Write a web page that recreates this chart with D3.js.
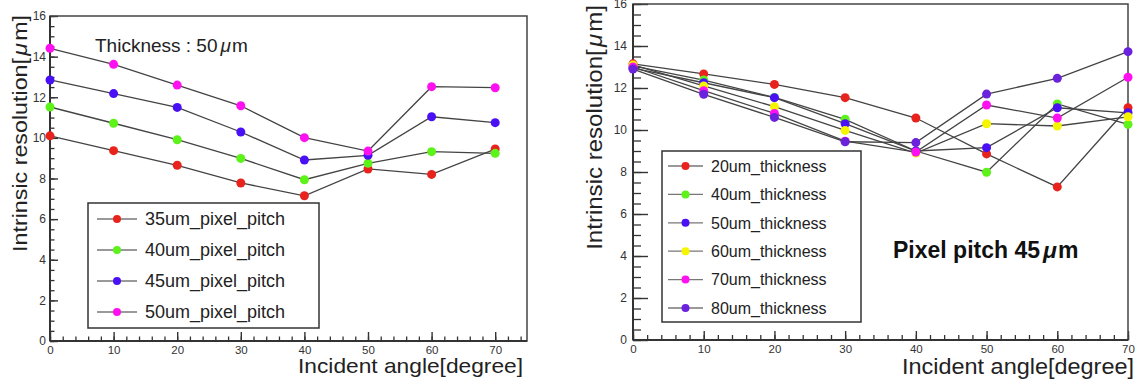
<!DOCTYPE html>
<html><head><meta charset="utf-8">
<script src="https://cdn.jsdelivr.net/npm/d3@7"></script>
<style>
body{margin:0;background:#fff}
svg{display:block}
text{font-family:"Liberation Sans",Arial,Helvetica,sans-serif}
</style>
</head><body>
<svg id="c" width="1143" height="383"></svg>
<script>
// ---------- data ----------
const angles = [0, 10, 20, 30, 40, 50, 60, 70];
const yTickValues = [0, 2, 4, 6, 8, 10, 12, 14, 16];
const xTickValues = [0, 10, 20, 30, 40, 50, 60, 70];

const pitchNames = ["35um_pixel_pitch", "40um_pixel_pitch", "45um_pixel_pitch", "50um_pixel_pitch"];
const pitch35 = [10.10, 9.37, 8.65, 7.78, 7.15, 8.47, 8.20, 9.45];
const pitch40 = [11.52, 10.72, 9.91, 8.99, 7.94, 8.75, 9.32, 9.24];
const pitch45 = [12.85, 12.18, 11.50, 10.29, 8.91, 9.14, 11.04, 10.75];
const pitch50 = [14.41, 13.62, 12.60, 11.58, 10.01, 9.35, 12.52, 12.47];

const thickNames = ["20um_thickness", "40um_thickness", "50um_thickness", "60um_thickness", "70um_thickness", "80um_thickness"];
const thick20 = [13.15, 12.67, 12.17, 11.54, 10.57, 8.86, 7.29, 11.06];
const thick40 = [13.05, 12.38, 11.55, 10.51, 9.00, 7.99, 11.24, 10.27];
const thick50 = [12.95, 12.25, 11.54, 10.30, 9.00, 9.16, 11.06, 10.82];
const thick60 = [13.10, 12.10, 11.11, 9.98, 8.90, 10.30, 10.19, 10.63];
const thick70 = [13.00, 11.87, 10.79, 9.47, 8.95, 11.19, 10.57, 12.51];
const thick80 = [12.90, 11.70, 10.60, 9.44, 9.40, 11.71, 12.46, 13.73];

const pitchColors = ["#e8231d", "#5cf21a", "#4a10f5", "#ff10f0"];
const thickColors = ["#e8231d", "#5cf21a", "#4a10f5", "#f5f500", "#ff10f0", "#6a22dc"];

const yTitle = "Intrinsic resolution[";
const xTitle = "Incident angle[degree]";

// ---------- drawing ----------
const svg = d3.select("#c");

function panel(cfg) {
  const g = svg.append("g");
  const x = d3.scaleLinear().domain(cfg.xDomain).range([cfg.left, cfg.right]);
  const y = d3.scaleLinear().domain([0, 16]).range([cfg.bottom, cfg.top]);

  // minor ticks
  g.append("g").attr("transform", `translate(${cfg.left},0)`)
    .call(d3.axisLeft(y).tickValues(d3.range(0, 16.01, 0.5)).tickSizeInner(-cfg.yMinor).tickSizeOuter(0).tickFormat(""))
    .call(s => s.select(".domain").remove())
    .call(s => s.selectAll("line").attr("stroke", "#333").attr("stroke-width", 1.3));
  g.append("g").attr("transform", `translate(0,${cfg.bottom})`)
    .call(d3.axisBottom(x).tickValues(d3.range(0, cfg.xDomain[1] + 0.01, 2)).tickSizeInner(-cfg.xMinor).tickSizeOuter(0).tickFormat(""))
    .call(s => s.select(".domain").remove())
    .call(s => s.selectAll("line").attr("stroke", "#333").attr("stroke-width", 1.3));

  // major ticks + labels
  g.append("g").attr("transform", `translate(${cfg.left},0)`)
    .call(d3.axisLeft(y).tickValues(yTickValues).tickSizeInner(-cfg.yMajor).tickSizeOuter(0).tickPadding(cfg.yPad))
    .call(s => s.select(".domain").remove())
    .call(s => s.selectAll("line").attr("stroke", "#333").attr("stroke-width", 1.4))
    .call(s => s.selectAll("text").attr("font-size", 12).attr("fill", "#333")
      .attr("font-family", '"Liberation Sans",Arial,sans-serif'));
  g.append("g").attr("transform", `translate(0,${cfg.bottom})`)
    .call(d3.axisBottom(x).tickValues(xTickValues).tickSizeInner(-cfg.xMajor).tickSizeOuter(0).tickPadding(cfg.xPad))
    .call(s => s.select(".domain").remove())
    .call(s => s.selectAll("line").attr("stroke", "#333").attr("stroke-width", 1.4))
    .call(s => s.selectAll("text").attr("font-size", 11.5).attr("fill", "#333")
      .attr("font-family", '"Liberation Sans",Arial,sans-serif'));

  // frame
  g.append("rect").attr("x", cfg.left).attr("y", cfg.top)
    .attr("width", cfg.right - cfg.left).attr("height", cfg.bottom - cfg.top)
    .attr("fill", "none").attr("stroke", "#444").attr("stroke-width", 1.5);
  g.append("line").attr("x1", cfg.left).attr("x2", cfg.left).attr("y1", cfg.top).attr("y2", cfg.bottom)
    .attr("stroke", "#333").attr("stroke-width", 2);
  g.append("line").attr("x1", cfg.left).attr("x2", cfg.right).attr("y1", cfg.bottom).attr("y2", cfg.bottom)
    .attr("stroke", "#333").attr("stroke-width", 2);

  // series
  const line = d3.line().x((d, i) => x(angles[i])).y(d => y(d));
  cfg.series.forEach((vals, k) => {
    g.append("path").attr("d", line(vals)).attr("fill", "none")
      .attr("stroke", "#444").attr("stroke-width", 1.3);
    g.selectAll(null).data(vals).join("circle")
      .attr("cx", (d, i) => x(angles[i])).attr("cy", d => y(d)).attr("r", cfg.r)
      .attr("fill", cfg.colors[k]);
  });

  // legend
  const L = cfg.legend;
  g.append("rect").attr("x", L.x0).attr("y", L.y0).attr("width", L.x1 - L.x0).attr("height", L.y1 - L.y0)
    .attr("fill", "#fff").attr("stroke", "#333").attr("stroke-width", 1.5);
  cfg.names.forEach((n, k) => {
    const yy = L.first + k * L.step;
    g.append("line").attr("x1", L.lx0).attr("x2", L.lx1).attr("y1", yy).attr("y2", yy)
      .attr("stroke", "#777").attr("stroke-width", 1.3);
    g.append("circle").attr("cx", (L.lx0 + L.lx1) / 2).attr("cy", yy).attr("r", cfg.r - 0.5).attr("fill", cfg.colors[k]);
    g.append("text").attr("x", L.tx).attr("y", yy).attr("dy", "0.36em")
      .attr("font-size", L.fs).attr("fill", "#222").text(n);
  });

  // axis titles
  const yt = g.append("text")
    .attr("text-anchor", "end").attr("font-size", cfg.titleFs).attr("fill", "#222");
  yt.append("tspan").text(yTitle);
  yt.append("tspan").attr("dx", 2).attr("font-style", "italic").text("μ");
  yt.append("tspan").attr("dx", 2).text("m]");
  const len = yt.node().getComputedTextLength() + 4;
  const sx = cfg.yTitleLen / len;
  yt.attr("transform", `translate(${cfg.yTitleX},${cfg.yTitleEnd}) rotate(-90) scale(${sx},1)`);

  g.append("text").attr("x", cfg.xTitleEnd).attr("y", cfg.xTitleY)
    .attr("text-anchor", "end").attr("font-size", cfg.titleFs).attr("fill", "#222")
    .attr("textLength", cfg.xTitleLen).attr("lengthAdjust", "spacingAndGlyphs")
    .text(xTitle);
  return g;
}

const left = panel({
  left: 50, right: 527, top: 16, bottom: 341, xDomain: [0, 75],
  yMajor: 8, yMinor: 4.5, xMajor: 9, xMinor: 4.5, yPad: 4, xPad: 5, r: 4.5,
  series: [pitch35, pitch40, pitch45, pitch50], colors: pitchColors, names: pitchNames,
  legend: {x0: 88, x1: 319, y0: 203, y1: 328, first: 219, step: 31, lx0: 97, lx1: 137, tx: 145, fs: 18},
  yTitleX: 27, yTitleEnd: 15, yTitleLen: 237, xTitleEnd: 523, xTitleY: 373, xTitleLen: 225, titleFs: 21
});
const lt = left.append("text").attr("x", 95).attr("y", 52).attr("font-size", 19).attr("fill", "#222");
lt.append("tspan").text("Thickness : 50");
lt.append("tspan").attr("dx", 3).attr("font-style", "italic").text("μ");
lt.append("tspan").attr("dx", 1).text("m");

const right = panel({
  left: 633, right: 1128, top: 4, bottom: 340, xDomain: [0, 70],
  yMajor: 15, yMinor: 8, xMajor: 9, xMinor: 5, yPad: 6, xPad: 5, r: 4.5,
  series: [thick20, thick40, thick50, thick60, thick70, thick80], colors: thickColors, names: thickNames,
  legend: {x0: 662, x1: 861, y0: 151, y1: 322, first: 166, step: 28.4, lx0: 668, lx1: 703, tx: 711, fs: 16},
  yTitleX: 602, yTitleEnd: 5, yTitleLen: 245, xTitleEnd: 1134, xTitleY: 374, xTitleLen: 232, titleFs: 22
});
const rt = right.append("text").attr("x", 893).attr("y", 258).attr("font-size", 23)
  .attr("font-weight", "bold").attr("fill", "#111");
rt.append("tspan").text("Pixel pitch 45");
rt.append("tspan").attr("dx", 3).attr("font-style", "italic").text("μ");
rt.append("tspan").attr("dx", 1).text("m");
</script>
</body></html>
